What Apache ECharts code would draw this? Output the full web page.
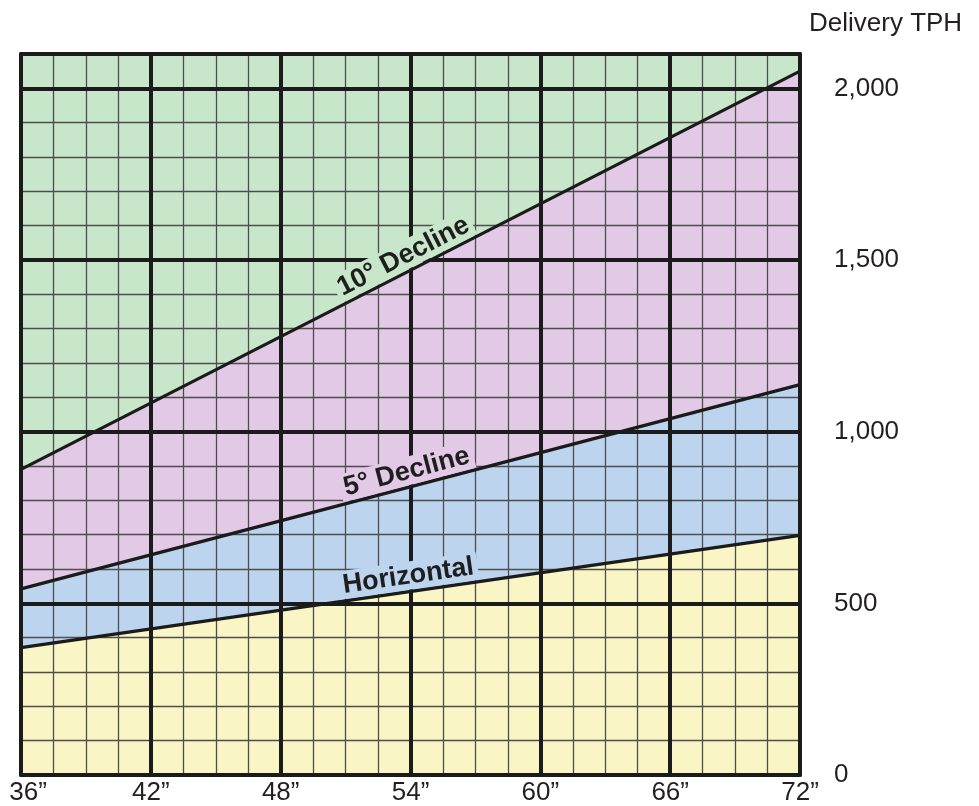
<!DOCTYPE html>
<html><head><meta charset="utf-8">
<script src="https://cdn.jsdelivr.net/npm/echarts/dist/echarts.min.js"></script>
<style>html,body{margin:0;padding:0;background:#fff}#c{width:979px;height:806px}</style>
</head><body><div id="c"></div>
<script>
// ---- data ----
const beltWidths = [36, 72];                       // inches (line end points)
const xTickLabels = ['36”','42”','48”','54”','60”','66”','72”'];
const yTickLabels = ['0','500','1,000','1,500','2,000'];
const lineNames = ['10° Decline', '5° Decline', 'Horizontal'];
const decline10 = [890, 2050];                      // Delivery TPH at 36" and 72"
const decline5  = [542, 1137];
const horizontal = [371, 698];
const yMax = 2100;

// ---- style ----
const FONT = '"Liberation Sans", Arial, Helvetica, sans-serif';
const GREEN = '#c8e6c9', PINK = '#e2c9e6', BLUE = '#bdd4ef', YELLOW = '#faf5c4';
const INK = '#1b1b1b';

function band(name, vals, fill, halo) {
  return {
    name, type: 'line', z: 1, silent: true, symbol: 'none',
    data: beltWidths.map((x, i) => [x, vals[i]]),
    lineStyle: { width: 0 },
    areaStyle: { color: fill, opacity: 1, origin: 'start' },
    markLine: {
      silent: true, z: 6, symbol: ['none', 'none'], animation: false,
      lineStyle: { color: INK, width: 3.2, type: 'solid' },
      label: {
        show: true, position: 'insideMiddleTop', distance: 2,
        formatter: name, fontFamily: FONT, fontWeight: 'bold', fontSize: 27,
        color: '#1e1e1e', backgroundColor: halo, padding: [1, 4, 0, 4]
      },
      emphasis: { disabled: true },
      data: [[{ coord: [beltWidths[0], vals[0]] }, { coord: [beltWidths[1], vals[1]] }]]
    }
  };
}

const chart = echarts.init(document.getElementById('c'), null, { renderer: 'canvas' });
chart.setOption({
  animation: false,
  title: {
    text: 'Delivery TPH', left: 804, top: 6,
    textStyle: { fontFamily: FONT, fontSize: 26, fontWeight: 'normal', color: '#231f20' }
  },
  grid: {
    left: 21, right: 179, top: 54, bottom: 30.5, show: true,
    backgroundColor: GREEN, borderWidth: 0, containLabel: false
  },
  xAxis: [
    {
      type: 'value', min: 36, max: 72, interval: 6, position: 'bottom', z: 3,
      axisLine: { show: true, onZero: false, lineStyle: { color: INK, width: 4 } },
      axisTick: { show: false },
      axisLabel: {
        formatter: v => {
          const i = Math.round((v - 36) / 6);
          const t = xTickLabels[i] || '';
          return i === 0 ? '{first|' + t + '}' : t;
        },
        rich: { first: { fontFamily: FONT, fontSize: 26, color: '#231f20', padding: [0, 0, 0, 14] } },
        fontFamily: FONT, fontSize: 26, color: '#231f20', margin: 5
      },
      splitLine: { show: true, lineStyle: { color: INK, width: 4 } }
    },
    {
      type: 'value', min: 36, max: 72, interval: 1.5, position: 'top', z: 2,
      axisLine: { show: true, onZero: false, lineStyle: { color: INK, width: 4 } },
      axisTick: { show: false }, axisLabel: { show: false },
      splitLine: { show: true, lineStyle: { color: '#4d4d4d', width: 1.3 } }
    }
  ],
  yAxis: [
    {
      type: 'value', min: 0, max: yMax, interval: 500, position: 'right', z: 3,
      axisLine: { show: true, onZero: false, lineStyle: { color: INK, width: 4 } },
      axisTick: { show: false },
      axisLabel: {
        formatter: v => (v % 500 === 0 && v <= 2000) ? yTickLabels[v / 500] : '',
        align: 'left', margin: 34, fontFamily: FONT, fontSize: 26, color: '#231f20'
      },
      splitLine: { show: true, lineStyle: { color: INK, width: 4 } }
    },
    {
      type: 'value', min: 0, max: yMax, interval: 100, position: 'left', z: 2,
      axisLine: { show: true, onZero: false, lineStyle: { color: INK, width: 4 } },
      axisTick: { show: false }, axisLabel: { show: false },
      splitLine: { show: true, lineStyle: { color: '#4d4d4d', width: 1.3 } }
    }
  ],
  series: [
    band(lineNames[0], decline10, PINK, GREEN),
    band(lineNames[1], decline5, BLUE, PINK),
    band(lineNames[2], horizontal, YELLOW, BLUE)
  ]
});
</script>
</body></html>
